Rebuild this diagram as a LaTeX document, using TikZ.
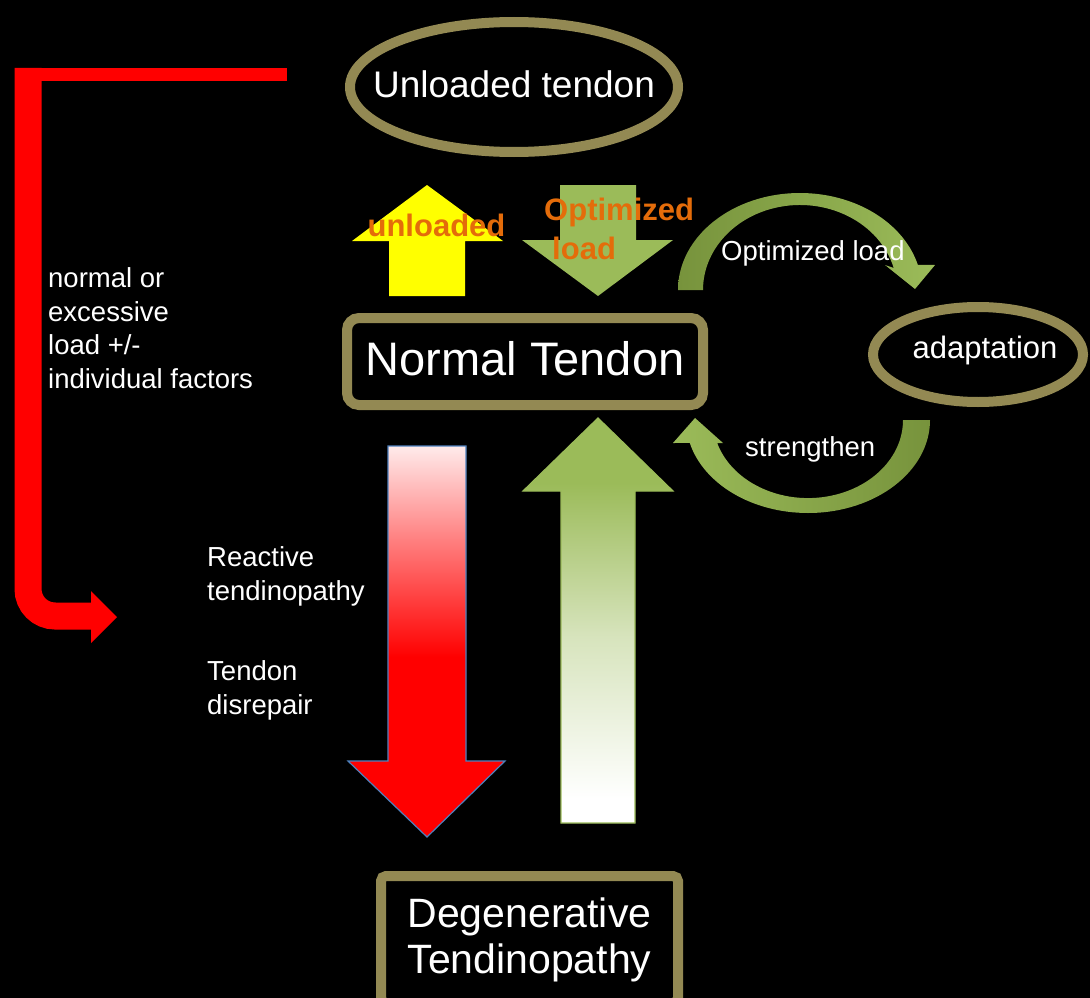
\documentclass[tikz,border=0pt]{standalone}
\usepackage{fontspec}
\setmainfont{Liberation Sans}
\usetikzlibrary{shapes.geometric}
\definecolor{rim}{HTML}{938953}
\definecolor{leaf}{HTML}{9BBB59}
\definecolor{moss}{HTML}{77933C}
\definecolor{rust}{HTML}{E46C0A}
\definecolor{edge}{HTML}{4F81BD}
\definecolor{sun}{RGB}{255,255,0}
\colorlet{redmid}{red!50}
\colorlet{redtop}{red!8}
\colorlet{leafmid}{leaf!40}
\pgfdeclareverticalshading{redfade}{100bp}{color(0bp)=(red); color(48bp)=(red); color(63bp)=(redmid); color(75bp)=(redtop); color(100bp)=(redtop)}
\pgfdeclareverticalshading{leaffade}{100bp}{color(0bp)=(white); color(28bp)=(white); color(48bp)=(leafmid); color(67bp)=(leaf); color(100bp)=(leaf)}
\begin{document}
\begin{tikzpicture}[x=1pt, y=-1pt,
    oval/.style={draw=rim, line width=10pt, ellipse, inner sep=0pt},
    box/.style={draw=rim, line width=10pt, rectangle, inner sep=0pt, text=white},
    note/.style={text=white, font=\fontsize{27.5}{33.5}\selectfont, align=left, inner sep=0pt},
    cue/.style={text=rust, font=\fontsize{31}{39}\selectfont\bfseries, align=left, inner sep=0pt}]
  \fill[black] (0,0) rectangle (1090,998);
  \useasboundingbox (0,0) rectangle (1090,998);

  \fill[red] (15,68) rectangle (287,81);
  \draw[red, line width=27pt, rounded corners=27pt] (28,68) -- (28,616) -- (92,616);
  \fill[red] (91,591) -- (117,617) -- (91,643) -- cycle;

  \node[oval, minimum width=328pt, minimum height=130pt,
    label={[text=white, font=\fontsize{37}{44}\selectfont, yshift=3pt]center:Unloaded tendon}] (unloaded) at (514,87) {};
  \node[box, rounded corners=12pt, minimum width=356pt, minimum height=87pt, text depth=7pt, font=\fontsize{47}{56}\selectfont] (normal) at (525,361.5) {Normal Tendon};
  \node[oval, minimum width=210pt, minimum height=95pt,
    label={[text=white, font=\fontsize{31}{37}\selectfont, xshift=7pt, yshift=4pt]center:adaptation}] (adapt) at (978,354.5) {};
  \node[box, rounded corners=5pt, minimum width=297pt, minimum height=127pt, align=center, font=\fontsize{41}{46}\selectfont] (degen) at (529.5,939.5) {Degenerative\\Tendinopathy};

  \fill[sun] (427,185) -- (503,241) -- (465,241) -- (465,296) -- (389,296) -- (389,241) -- (352,241) -- cycle;
  \fill[leaf] (560,185) -- (636,185) -- (636,240) -- (673,240) -- (598,296) -- (522,240) -- (560,240) -- cycle;
  \shadedraw[draw=edge, line width=1.2pt, shading=redfade] (388,446) -- (466,446) -- (466,761) -- (505,761) -- (427,837) -- (348,761) -- (388,761) -- cycle;
  \shadedraw[draw=leaf, line width=1.2pt, shading=leaffade] (598,418) -- (673,491) -- (635,491) -- (635,823) -- (561,823) -- (561,491) -- (523,491) -- cycle;

  \shade[left color=moss, right color=leaf] (678,290) arc (180:345:122 and 97) -- (935,265) -- (915,289) -- (885,265) -- (893.7,268) arc (345:180:97 and 85) -- cycle;
  \shade[left color=leaf, right color=moss] (930,420) arc (0:165.7:122 and 93) -- (673,443) -- (695,418) -- (723,443) -- (717.2,443) arc (162.9:0:95 and 78) -- cycle;

  \node[note, anchor=base west] (load) at (48,388) {normal or\\excessive\\load +/-\\individual factors};
  \node[note, anchor=base west] (react) at (207,600) {Reactive\\tendinopathy};
  \node[note, anchor=base west] (repair) at (207,714) {Tendon\\disrepair};
  \node[note, anchor=base west] (optimal) at (721,260) {Optimized load};
  \node[note, anchor=base west] (strong) at (745,456) {strengthen};
  \node[cue, anchor=base] (unl) at (436.5,236) {unloaded};
  \node[cue, anchor=base west] (optl) at (544,259) {Optimized\\\hspace*{8pt}load};
\end{tikzpicture}
\end{document}
